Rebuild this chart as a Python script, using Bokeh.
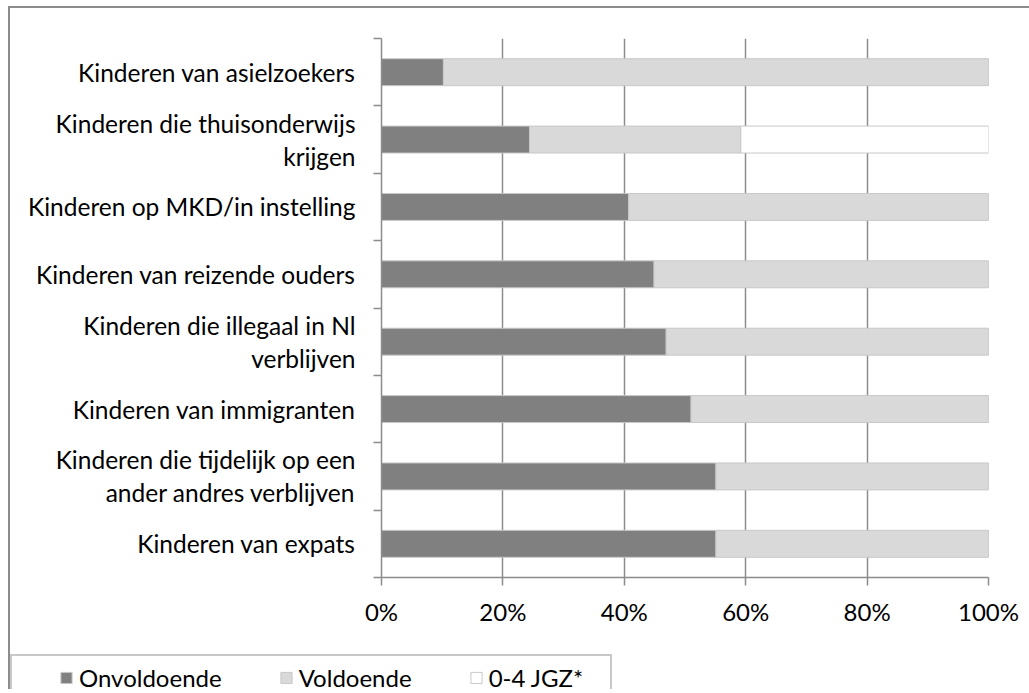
from bokeh.plotting import figure
from bokeh.layouts import column
from bokeh.models import (ColumnDataSource, FactorRange, Range1d, LinearAxis, CategoricalAxis,
                          FixedTicker, NumeralTickFormatter, Legend, LegendItem)
from bokeh.embed import file_html
from bokeh.resources import INLINE

# categories, top to bottom as shown
categories = [
    "Kinderen van asielzoekers",
    "Kinderen die thuisonderwijs\nkrijgen",
    "Kinderen op MKD/in instelling",
    "Kinderen van reizende ouders",
    "Kinderen die illegaal in Nl\nverblijven",
    "Kinderen van immigranten",
    "Kinderen die tijdelijk op een\nander andres verblijven",
    "Kinderen van expats",
]
onvoldoende = [0.102, 0.244, 0.407, 0.449, 0.469, 0.510, 0.551, 0.551]
voldoende = [0.898, 0.348, 0.593, 0.551, 0.531, 0.490, 0.449, 0.449]
jgz = [0.0, 0.408, 0.0, 0.0, 0.0, 0.0, 0.0, 0.0]
series_names = ["Onvoldoende", "Voldoende", "0-4 JGZ*"]
series_colors = ["#808080", "#d9d9d9", "#ffffff"]
x_ticks = [0, 0.2, 0.4, 0.6, 0.8, 1.0]

FONT = "Lato"
GRID = "#8c8c8c"

factors = categories[::-1]
source = ColumnDataSource(dict(
    cat=factors,
    onv=onvoldoende[::-1],
    vol=voldoende[::-1],
    jgz=jgz[::-1],
))

p = figure(width=1019, height=646, output_backend="svg", toolbar_location=None,
           x_range=Range1d(0, 1), y_range=FactorRange(factors=factors, range_padding=0),
           y_axis_location=None, x_axis_location=None,
           min_border_left=371, min_border_right=41, min_border_top=30, min_border_bottom=77)
p.frame_align = False
p.outline_line_color = None
p.background_fill_color = "white"
p.border_fill_color = "white"

renderers = p.hbar_stack(["onv", "vol", "jgz"], y="cat", height=0.4, source=source,
                         fill_color=series_colors, line_color="#c8c8c8", line_width=1)

# x axis
xaxis = LinearAxis(ticker=FixedTicker(ticks=x_ticks), formatter=NumeralTickFormatter(format="0%"))
xaxis.axis_line_color = GRID
xaxis.axis_line_width = 1.5
xaxis.major_tick_line_color = GRID
xaxis.major_tick_line_width = 1.5
xaxis.major_tick_in = 0
xaxis.major_tick_out = 8
xaxis.minor_tick_line_color = None
xaxis.major_label_standoff = 11
xaxis.major_label_text_font = FONT
xaxis.major_label_text_font_size = "24px"
xaxis.major_label_text_color = "black"
p.add_layout(xaxis, "below")

p.xgrid.ticker = FixedTicker(ticks=x_ticks)
p.xgrid.grid_line_color = GRID
p.xgrid.grid_line_width = 1.5
p.ygrid.grid_line_color = None

# boundary tick axis on the left (ticks between categories, synthetic coordinates)
tick_axis = LinearAxis(ticker=FixedTicker(ticks=list(range(len(categories) + 1))))
tick_axis.axis_line_color = GRID
tick_axis.axis_line_width = 1.5
tick_axis.major_tick_line_color = GRID
tick_axis.major_tick_line_width = 1.5
tick_axis.major_tick_in = 0
tick_axis.major_tick_out = 8
tick_axis.minor_tick_line_color = None
tick_axis.major_label_text_font_size = "1px"
tick_axis.major_label_text_color = None
tick_axis.major_label_standoff = 0
p.add_layout(tick_axis, "left")

cat_axis = CategoricalAxis()
cat_axis.axis_line_color = None
cat_axis.major_tick_line_color = None
cat_axis.major_tick_in = 0
cat_axis.major_tick_out = 0
cat_axis.major_label_standoff = 18
cat_axis.major_label_text_font = FONT
cat_axis.major_label_text_font_size = "24.5px"
cat_axis.major_label_text_color = "black"
cat_axis.major_label_text_line_height = 1.14
p.add_layout(cat_axis, "left")

# legend strip below the chart (same data, hidden renderers, only the legend shows)
leg = figure(width=602, height=35, output_backend="svg", toolbar_location=None,
             x_range=Range1d(0, 1), y_range=FactorRange(factors=factors),
             x_axis_location=None, y_axis_location=None,
             min_border_left=0, min_border_right=0, min_border_top=7, min_border_bottom=0)
leg.frame_align = False
leg.outline_line_color = None
leg.grid.visible = False
leg.styles = {"border": "2px solid #c8c8c8", "border-bottom": "none"}
leg_renderers = leg.hbar_stack(["onv", "vol", "jgz"], y="cat", height=0.4, source=source,
                               fill_color=series_colors, line_color="#c8c8c8", line_width=1,
                               visible=False)
legend = Legend(items=[LegendItem(label=n, renderers=[r]) for n, r in zip(series_names, leg_renderers)],
                orientation="horizontal", location="left")
legend.border_line_color = None
legend.background_fill_alpha = 0
legend.padding = 0
legend.margin = 47
legend.spacing = 57
legend.label_standoff = 6
legend.glyph_width = 14
legend.glyph_height = 14
legend.label_text_font = FONT
legend.label_text_font_size = "24px"
legend.label_text_color = "black"
legend.label_height = 14
leg.add_layout(legend, "center")

layout = column(p, leg, spacing=0)
layout.styles = {"margin-left": "8px", "margin-top": "6px",
                 "border-top": "2px solid #8c8c8c", "border-left": "2px solid #8c8c8c"}

open("out.html", "w").write(file_html(layout, INLINE))
